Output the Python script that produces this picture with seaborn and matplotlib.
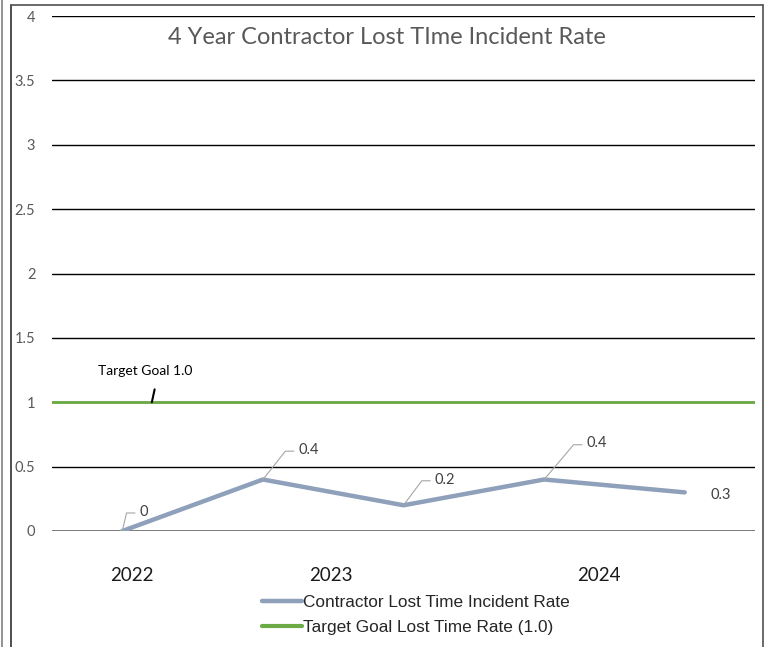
import matplotlib
matplotlib.use('Agg')
import matplotlib.pyplot as plt
import seaborn as sns
from pandas import DataFrame
from matplotlib.lines import Line2D

######################################################################
# data

points = [0, 1, 2, 3, 4]
rates = [0, 0.4, 0.2, 0.4, 0.3]
rate_labels = ['0', '0.4', '0.2', '0.4', '0.3']
year_labels = ['2022', '2023', '2024']
year_positions = [0.07, 1.48, 3.39]
target_goal = 1.0
y_ticks = [0, 0.5, 1, 1.5, 2, 2.5, 3, 3.5, 4]
y_tick_labels = ['0', '0.5', '1', '1.5', '2', '2.5', '3', '3.5', '4']

title = '4 Year Contractor Lost TIme Incident Rate'
series_name = 'Contractor Lost Time Incident Rate'
target_name = 'Target Goal Lost Time Rate (1.0)'

######################################################################
# plotting

sns.set_style('white')
plt.rcParams['font.family'] = ['Lato', 'DejaVu Sans']

line_color = '#8EA0BA'
green = '#6BAA45'
gray_text = '#595959'

fig = plt.figure(figsize=(7.7, 6.47), dpi=100)
ax = fig.add_axes([52 / 770, 1 - 531 / 647, 703 / 770, 515 / 647])

data = DataFrame({'point': points, 'rate': rates})

# gridlines
for y in y_ticks[1:]:
    ax.axhline(y, color='black', lw=1, zorder=1)
ax.axhline(0, color='#6E6E6E', lw=2, zorder=1)

# target line
ax.axhline(target_goal, color=green, lw=2, zorder=2)

sns.lineplot(data=data, x='point', y='rate', color=line_color, lw=3.2,
             ax=ax, zorder=3)

ax.set_xlim(-0.5, 4.5)
ax.set_ylim(0, 4)
ax.set_yticks(y_ticks)
ax.set_yticklabels(y_tick_labels, fontsize=10.5, color=gray_text)
ax.tick_params(axis='y', length=0, pad=12)
ax.set_xticks(year_positions)
ax.set_xticklabels(year_labels, fontsize=13.5, color='#1a1a1a')
ax.tick_params(axis='x', length=0, pad=26)
ax.set_xlabel('')
ax.set_ylabel('')
for s in ax.spines.values():
    s.set_visible(False)

# data labels with leader lines
offsets = [(0.03, 0.14), (0.16, 0.22), (0.13, 0.19), (0.21, 0.27), None]
for x, y, lab, off in zip(points, rates, rate_labels, offsets):
    if off is None:
        ax.text(x + 0.18, y - 0.02, lab, fontsize=10.5, color='#404040',
                ha='left', va='center')
        continue
    dx, dy = off
    ax.plot([x, x + dx, x + dx + 0.06], [y, y + dy, y + dy],
            color='#A6A6A6', lw=0.8, zorder=4)
    ax.text(x + dx + 0.09, y + dy + 0.01, lab, fontsize=10.5, color='#404040',
            ha='left', va='center')

# target goal label
ax.plot([0.21, 0.23], [target_goal, target_goal + 0.1], color='black',
        lw=1.5, zorder=4)
ax.text(-0.17, target_goal + 0.24, 'Target Goal 1.0', fontsize=10,
        color='black', ha='left', va='center')

fig.text(387 / 770, 1 - 37 / 647, title, fontsize=17, color=gray_text,
         ha='center', va='center')

# legend
handles = [Line2D([], [], color=line_color, lw=3.2),
           Line2D([], [], color=green, lw=3)]
fig.legend(handles, [series_name, target_name], loc='center left',
           bbox_to_anchor=(262 / 770, 1 - 615 / 647), frameon=False,
           prop={'family': 'Liberation Sans', 'size': 12.4},
           handlelength=2.35, handletextpad=0.05, labelspacing=0.58,
           borderpad=0, borderaxespad=0)

# outer frame
fig.add_artist(Line2D([2 / 770, 2 / 770], [0, 1], color='#7F7F7F', lw=1.2))
fig.add_artist(Line2D([11 / 770, 11 / 770], [0, 1 - 5 / 647], color='#303030',
                      lw=1.2))
fig.add_artist(Line2D([11 / 770, 763 / 770], [1 - 5 / 647, 1 - 5 / 647],
                      color='#505050', lw=1.2))
fig.add_artist(Line2D([763 / 770, 763 / 770], [0, 1 - 5 / 647],
                      color='#505050', lw=1.2))

fig.savefig('out.png', dpi=100)
plt.close()
